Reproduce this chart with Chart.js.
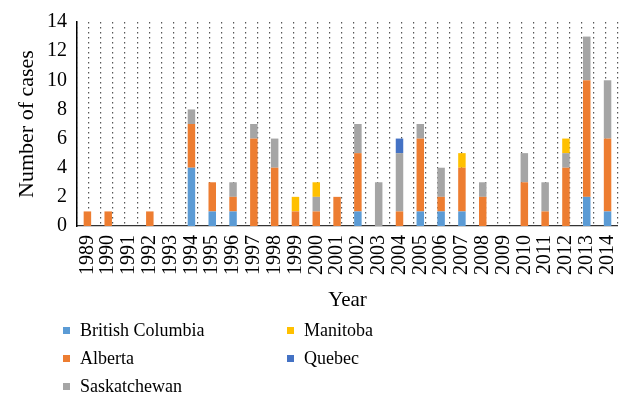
<!DOCTYPE html>
<html>
<head>
<meta charset="utf-8">
<script src="https://cdn.jsdelivr.net/npm/chart.js@4.4.1/dist/chart.umd.min.js"></script>
<style>
body { margin: 0; background: #fff; }
#wrap { position: relative; width: 641px; height: 406px; }
#legend { position: absolute; left: 0; top: 0; width: 641px; height: 406px; font-family: "Liberation Serif", serif; font-size: 18px; color: #000; }
.item { position: absolute; white-space: nowrap; line-height: 20px; }
.box { display: inline-block; width: 7px; height: 7px; margin-right: 10px; vertical-align: middle; position: relative; top: -1px; }
</style>
</head>
<body>
<div id="wrap">
  <canvas id="chart"></canvas>
  <div id="legend"></div>
</div>
<script>
const years = ["1989", "1990", "1991", "1992", "1993", "1994", "1995", "1996", "1997", "1998", "1999", "2000", "2001",
    "2002", "2003", "2004", "2005", "2006", "2007", "2008", "2009", "2010", "2011", "2012", "2013", "2014"];
const britishColumbia = [0, 0, 0, 0, 0, 4, 1, 1, 0, 0, 0, 0, 0, 1, 0, 0, 1, 1, 1, 0, 0, 0, 0, 0, 2, 1];
const alberta         = [1, 1, 0, 1, 0, 3, 2, 1, 6, 4, 1, 1, 2, 4, 0, 1, 5, 1, 3, 2, 0, 3, 1, 4, 8, 5];
const saskatchewan    = [0, 0, 0, 0, 0, 1, 0, 1, 1, 2, 0, 1, 0, 2, 3, 4, 1, 2, 0, 1, 0, 2, 2, 1, 3, 4];
const manitoba        = [0, 0, 0, 0, 0, 0, 0, 0, 0, 0, 1, 1, 0, 0, 0, 0, 0, 0, 1, 0, 0, 0, 0, 1, 0, 0];
const quebec          = [0, 0, 0, 0, 0, 0, 0, 0, 0, 0, 0, 0, 0, 0, 0, 1, 0, 0, 0, 0, 0, 0, 0, 0, 0, 0];
const yTicks = [0, 2, 4, 6, 8, 10, 12, 14];

const serif = "'Liberation Serif', 'Times New Roman', serif";

const datasets = [
    { label: "British Columbia", data: britishColumbia, backgroundColor: "#5B9BD5" },
    { label: "Alberta", data: alberta, backgroundColor: "#ED7D31" },
    { label: "Saskatchewan", data: saskatchewan, backgroundColor: "#A5A5A5" },
    { label: "Manitoba", data: manitoba, backgroundColor: "#FFC000" },
    { label: "Quebec", data: quebec, backgroundColor: "#4472C4" }
];
datasets.forEach(d => { d.borderWidth = 0; d.categoryPercentage = 1; d.barPercentage = 0.36; });

new Chart(document.getElementById("chart"), {
    type: 'bar',
    data: { labels: years, datasets: datasets },
    options: {
        responsive: true,
        maintainAspectRatio: false,
        animation: false,
        layout: { padding: { left: 0, right: 14, top: 22, bottom: 90 } },
        plugins: { legend: { display: false }, tooltip: { enabled: false } },
        scales: {
            x: {
                stacked: true,
                grid: { display: false, drawTicks: false },
                border: { display: true, color: "#333", width: 1.2 },
                ticks: {
                    autoSkip: false, minRotation: 90, maxRotation: 90, padding: 9,
                    color: "#000", font: { family: serif, size: 20 }
                },
                title: {
                    display: true, text: "Year", color: "#000",
                    font: { family: serif, size: 21 }, padding: { top: 0, bottom: 3 }
                },
                afterFit: s => { s.height = 90; }
            },
            g: {
                type: 'linear', axis: 'x', position: 'top', min: 0, max: 44,
                ticks: { display: false, stepSize: 1 },
                grid: { display: true, drawTicks: false, color: "#555", lineWidth: 1.2 },
                border: { display: false, dash: [1.5, 3.5] },
                afterFit: s => { s.height = 0; }
            },
            y: {
                stacked: true,
                min: 0, max: 14,
                grid: { display: false, drawTicks: false },
                border: { display: true, color: "#000", width: 1.5 },
                afterBuildTicks: s => { s.ticks = yTicks.map(v => ({ value: v })); },
                ticks: { padding: 10, color: "#000", font: { family: serif, size: 20 } },
                title: {
                    display: true, text: "Number of cases", color: "#000",
                    font: { family: serif, size: 22 }, padding: { top: 14, bottom: 0 }
                },
                afterFit: s => { s.width = 77; }
            }
        }
    }
});

// legend in two columns, column-major like the original
const legend = document.getElementById("legend");
const colX = [63, 287];
const rowY = [330, 358, 386];
datasets.forEach((d, i) => {
    const col = Math.floor(i / 3), row = i % 3;
    const el = document.createElement("div");
    el.className = "item";
    el.style.left = colX[col] + "px";
    el.style.top = (rowY[row] - 10) + "px";
    el.innerHTML = '<span class="box" style="background:' + d.backgroundColor + '"></span>' + d.label;
    legend.appendChild(el);
});
</script>
</body>
</html>
